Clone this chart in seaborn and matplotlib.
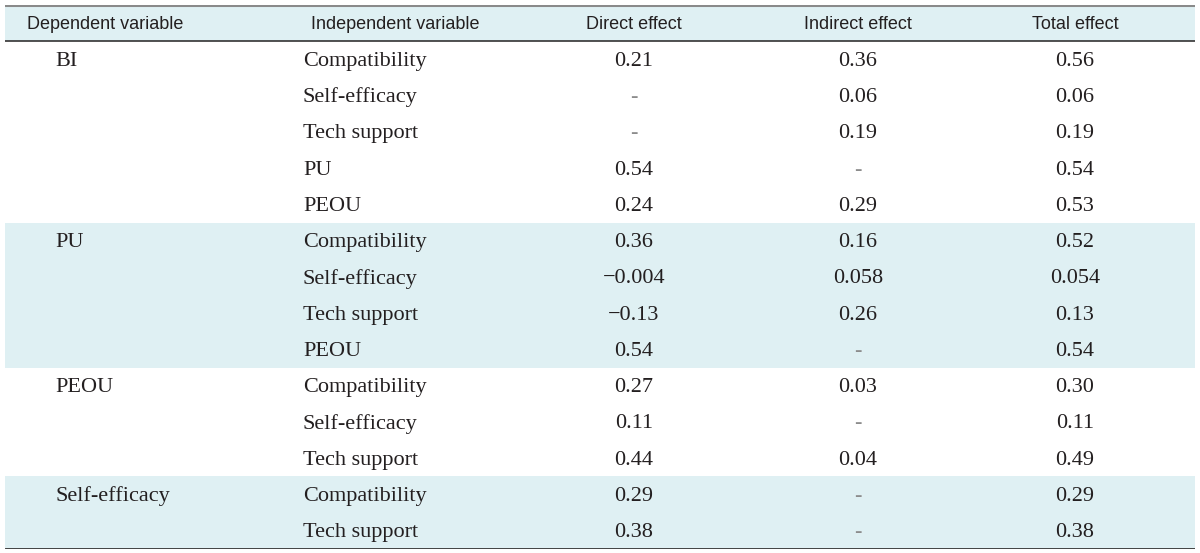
import numpy as np
import pandas as pd
import matplotlib
matplotlib.use("Agg")
import matplotlib.pyplot as plt
from matplotlib.colors import ListedColormap
import seaborn as sns

# table content
headers = ["Dependent variable", "Independent variable", "Direct effect", "Indirect effect", "Total effect"]
dependent = ["BI", "PU", "PEOU", "Self-efficacy"]
group_sizes = [5, 4, 3, 2]
independent = ["Compatibility", "Self-efficacy", "Tech support", "PU", "PEOU",
               "Compatibility", "Self-efficacy", "Tech support", "PEOU",
               "Compatibility", "Self-efficacy", "Tech support",
               "Compatibility", "Tech support"]
direct = ["0.21", "-", "-", "0.54", "0.24",
          "0.36", "\u22120.004", "\u22120.13", "0.54",
          "0.27", "0.11", "0.44",
          "0.29", "0.38"]
indirect = ["0.36", "0.06", "0.19", "-", "0.29",
            "0.16", "0.058", "0.26", "-",
            "0.03", "-", "0.04",
            "-", "-"]
total = ["0.56", "0.06", "0.19", "0.54", "0.53",
         "0.52", "0.054", "0.13", "0.54",
         "0.30", "0.11", "0.49",
         "0.29", "0.38"]

sns.set_theme(style="white")
serif = ["Liberation Serif", "DejaVu Serif"]
sans = ["Liberation Sans", "DejaVu Sans"]

# shading per row: header + every other dependent-variable group
shade = [1]
for g, n in enumerate(group_sizes):
    shade += [g % 2] * n
shade_df = pd.DataFrame({"shade": shade})

fig = plt.figure(figsize=(12, 5.53), dpi=100)
ax = fig.add_axes([5 / 1200, 4 / 553, 1190 / 1200, 544 / 553])
sns.heatmap(shade_df, ax=ax, cmap=ListedColormap(["white", "#dff0f3"]),
            cbar=False, xticklabels=False, yticklabels=False, vmin=0, vmax=1)
ax.set_xlim(0, 1)

n_rows = len(shade)
col_x = [100 / 1190, 390 / 1190, 629 / 1190, 853 / 1190, 1070 / 1190]
for x, h in zip(col_x, headers):
    ax.text(x, 0.55, h, ha="center", va="center", fontsize=13,
            family=sans, color="#231f20")

# dependent variable labels on first row of each group
row = 1
for name, n in zip(dependent, group_sizes):
    ax.text(50 / 1190, row + 0.55, name, ha="left", va="center",
            fontsize=16, family=serif, color="#231f20")
    row += n

for i in range(len(independent)):
    y = i + 1.55
    ax.text(298 / 1190, y, independent[i], ha="left", va="center",
            fontsize=16, family=serif, color="#231f20")
    for x, vals in zip(col_x[2:], [direct, indirect, total]):
        v = vals[i]
        col = "#8c8c8c" if v == "-" else "#231f20"
        ax.text(x, y, v, ha="center", va="center", fontsize=16,
                family=serif, color=col)

ax.axhline(0, color="#8a8a8a", lw=2.2)
ax.axhline(1, color="#333333", lw=1.2)
ax.axhline(n_rows, color="#333333", lw=2)
for s in ax.spines.values():
    s.set_visible(False)

fig.savefig("out.png", dpi=100)
